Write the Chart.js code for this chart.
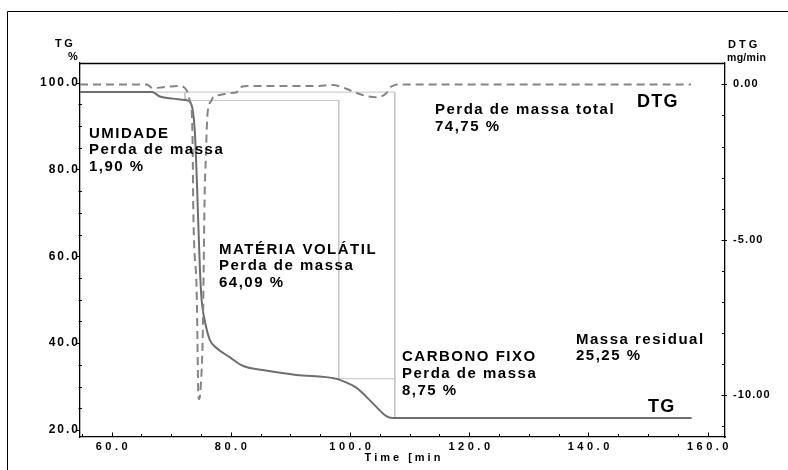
<!DOCTYPE html>
<html>
<head>
<meta charset="utf-8">
<script src="https://cdn.jsdelivr.net/npm/chart.js@4/dist/chart.umd.min.js"></script>
<style>
  html, body { margin: 0; padding: 0; background: #fff; }
  canvas { display: block; }
</style>
</head>
<body>
<canvas id="tga" width="788" height="470"></canvas>
<script>
// Axes
const timeRange = [54.7, 162.9];
const timeTicks = [60, 80, 100, 120, 140, 160];
const tgRange = [18.4, 104.5];
const tgTicks = [20, 40, 60, 80, 100];
const dtgRange = [-11.35, 0.69];
const dtgTicks = [0, -5, -10];

// TG curve: mass (%) against time (min)
const tgTime = [54.7, 66.75, 68.1, 70.3, 72.3, 73.1, 73.6, 73.95, 74.3, 74.45, 74.8, 75.1, 75.6, 76.5,
                77.6, 79.8, 82.0, 85.3, 91.0, 97.7, 99.1, 101.1, 103.8, 106.1, 107.1, 157.3];
const tgMass = [97.8, 97.8, 96.8, 96.3, 96.0, 95.6, 93.7, 89.1, 77.6, 71.4, 57.6, 50.0, 45.4, 40.7,
                38.9, 36.8, 34.8, 33.8, 32.7, 31.8, 31.1, 29.7, 26.2, 23.2, 22.8, 22.8];

// DTG curve: rate (mg/min) against time (min)
const dtgTime = [54.7, 65.9, 66.9, 68.6, 71.4, 72.3, 72.8, 73.1, 73.45, 73.6, 73.7, 74.3, 74.4, 74.55,
                 74.7, 74.95, 75.3, 75.45, 75.6, 75.8, 76.1, 76.8, 77.0, 78.1, 79.8, 81.0, 81.5, 83.2,
                 94.4, 97.1, 98.7, 99.9, 102.1, 104.4, 106.1, 106.6, 107.5, 107.8, 157.2];
const dtgRate = [0, 0, -0.12, -0.09, -0.05, -0.12, -0.28, -0.51, -0.92, -2.0, -3.95, -6.9, -8.2, -10.0,
                 -10.13, -9.74, -8.0, -5.9, -3.7, -2.4, -0.92, -0.51, -0.41, -0.34, -0.28, -0.25, -0.09, -0.05,
                 -0.05, -0.02, -0.09, -0.18, -0.34, -0.41, -0.28, -0.12, -0.02, 0, 0];

// Mass-loss steps (umidade, matéria volátil, carbono fixo)
const stepStartMass = 97.8;
const stepLosses = [1.90, 64.09, 8.75];
const stepTimes = [72.3, 98.1, 107.5];
const totalLoss = 74.75;
const residualMass = 25.25;

const FONT = "'Liberation Sans', Arial, Helvetica, sans-serif";
const pct = v => v.toFixed(2).replace('.', ',') + ' %';

// Step levels after each loss
const levels = [stepStartMass];
stepLosses.forEach(l => levels.push(+(levels[levels.length - 1] - l).toFixed(2)));

// Step construction lines (outer box and inner steps), gaps separated by null
const guidePts = [
  {x: timeRange[0], y: levels[0]}, {x: stepTimes[2], y: levels[0]}, {x: stepTimes[2], y: levels[3]},
  {x: stepTimes[2], y: null},
  {x: stepTimes[0], y: levels[0]}, {x: stepTimes[0], y: levels[1]}, {x: stepTimes[1], y: levels[1]},
  {x: stepTimes[1], y: levels[2]}, {x: stepTimes[2], y: levels[2]}
];

// Letter-spaced text helpers
function spaced(ctx, px, fn) {
  ctx.save();
  if ('letterSpacing' in ctx) ctx.letterSpacing = px + 'px';
  fn();
  ctx.restore();
}
function spacedScale(scale, labelSp, labelShift, titleSp, titleShift) {
  if (scale._spaced) return;
  scale._spaced = true;
  const dl = scale.drawLabels.bind(scale);
  const dt = scale.drawTitle.bind(scale);
  scale.drawLabels = function (area) {
    const ctx = this.ctx;
    spaced(ctx, labelSp, () => { ctx.translate(labelShift, 0); dl(area); });
  };
  scale.drawTitle = function (area) {
    const ctx = this.ctx;
    spaced(ctx, titleSp, () => { ctx.translate(titleShift, 0); dt(area); });
  };
}

const spacing = {
  id: 'spacing',
  beforeDraw(chart) {
    const s = chart.scales;
    spacedScale(s.x, 3.5, 1.75, 3, 1.5);
    spacedScale(s.y, 2, 2, 0, 0);
    spacedScale(s.y1, 1.1, 0, 0, 0);
  }
};

// Frame, tick marks and annotations
const decor = {
  id: 'decor',
  afterDraw(chart) {
    const {ctx, chartArea: a, scales: {x, y, y1}} = chart;
    const line = (x0, y0, x1, y1_) => { ctx.beginPath(); ctx.moveTo(x0, y0); ctx.lineTo(x1, y1_); ctx.stroke(); };
    ctx.save();
    ctx.strokeStyle = '#000';
    ctx.lineWidth = 1;
    // outer frame
    line(7.5, 11.5, chart.width, 11.5);
    line(7.5, 11.5, 7.5, chart.height);
    // top edge of plot
    ctx.lineWidth = 1.3;
    line(a.left, a.top + 0.5, a.right, a.top + 0.5);
    ctx.lineWidth = 1;
    // time ticks (pointing inward)
    for (let v = 55; v <= 160; v += 5) {
      const px = Math.round(x.getPixelForValue(v)) + 0.5;
      const major = timeTicks.includes(v);
      line(px, a.bottom, px, a.bottom - (major ? 4.5 : 3));
    }
    // TG ticks
    for (let v = 20; v <= 100; v += 5) {
      const py = Math.round(y.getPixelForValue(v)) + 0.5;
      if (tgTicks.includes(v)) line(a.left - 4, py, a.left, py);
      else line(a.left - 1.5, py, a.left + 2, py);
    }
    // DTG ticks
    for (let v = -11; v <= 0; v += 1) {
      const py = Math.round(y1.getPixelForValue(v)) + 0.5;
      if (dtgTicks.includes(v)) line(a.right - 3.5, py, a.right + 2, py);
      else line(a.right - 3, py, a.right, py);
    }
    ctx.restore();

    ctx.save();
    ctx.fillStyle = '#000';
    ctx.textAlign = 'left';
    ctx.textBaseline = 'alphabetic';
    const text = (t, px, py, font, sp) => { ctx.font = font; spaced(ctx, sp, () => ctx.fillText(t, px, py)); };

    // axis units
    text('TG', 55, 47, `bold 11px ${FONT}`, 2.5);
    text('%', 68, 60, `bold 11px ${FONT}`, 0);
    text('DTG', 728, 47.5, `bold 11px ${FONT}`, 3);
    text('mg/min', 727, 60.5, `bold 10.5px ${FONT}`, 0.3);

    // step annotations
    const notes = [
      {x: 89, y: 137.5, lines: ['UMIDADE', 'Perda de massa', pct(stepLosses[0])]},
      {x: 219, y: 253.5, lines: ['MATÉRIA VOLÁTIL', 'Perda de massa', pct(stepLosses[1])]},
      {x: 402, y: 361, lines: ['CARBONO FIXO', 'Perda de massa', pct(stepLosses[2])]},
      {x: 435, y: 114, lines: ['Perda de massa total', pct(totalLoss)]},
      {x: 576, y: 343.5, lines: ['Massa residual', pct(residualMass)]}
    ];
    notes.forEach(n => n.lines.forEach((t, i) => text(t, n.x, n.y + i * 16.8, `bold 15px ${FONT}`, 1.5)));

    // curve labels
    text('DTG', 637, 106.5, `bold 18px ${FONT}`, 1.3);
    text('TG', 648, 411.5, `bold 18px ${FONT}`, 1.3);
    ctx.restore();
  }
};

const toPts = (xs, ys) => xs.map((t, i) => ({x: t, y: ys[i]}));

new Chart(document.getElementById('tga'), {
  type: 'line',
  data: {
    datasets: [
      {
        label: 'DTG',
        data: toPts(dtgTime, dtgRate),
        yAxisID: 'y1',
        borderColor: '#858585',
        borderWidth: 2,
        borderDash: [8, 5],
        pointRadius: 0,
        cubicInterpolationMode: 'monotone',
        fill: false
      },
      {
        label: 'TG',
        data: toPts(tgTime, tgMass),
        yAxisID: 'y',
        borderColor: '#6e6e6e',
        borderWidth: 2,
        pointRadius: 0,
        cubicInterpolationMode: 'monotone',
        fill: false
      },
      {
        label: 'Etapas',
        data: guidePts,
        yAxisID: 'y',
        borderColor: '#c4c4c4',
        borderWidth: 1,
        pointRadius: 0,
        tension: 0,
        spanGaps: false,
        fill: false
      }
    ]
  },
  options: {
    responsive: false,
    animation: false,
    events: [],
    layout: {padding: {top: 63, left: 0, right: 0, bottom: 0}},
    plugins: {legend: {display: false}, tooltip: {enabled: false}},
    scales: {
      x: {
        type: 'linear',
        position: 'bottom',
        min: timeRange[0],
        max: timeRange[1],
        afterBuildTicks: s => { s.ticks = timeTicks.map(v => ({value: v})); },
        afterFit: s => { s.height = 33; },
        grid: {display: false, drawTicks: false},
        border: {display: true, color: '#000', width: 1.3},
        ticks: {
          autoSkip: false, maxRotation: 0, padding: 3, color: '#000',
          font: {family: FONT, size: 11, weight: 'bold'},
          callback: v => v.toFixed(1)
        },
        title: {
          display: true, text: 'Time [min', color: '#000',
          font: {family: FONT, size: 11, weight: 'bold'},
          padding: {top: 0, bottom: 5}
        }
      },
      y: {
        type: 'linear',
        position: 'left',
        min: tgRange[0],
        max: tgRange[1],
        afterBuildTicks: s => { s.ticks = tgTicks.map(v => ({value: v})); },
        afterFit: s => { s.width = 80; },
        grid: {display: false, drawTicks: false},
        border: {display: true, color: '#000', width: 1.3},
        ticks: {
          autoSkip: false, padding: 2, color: '#000',
          font: {family: FONT, size: 12, weight: 'bold'},
          callback: v => v.toFixed(1)
        }
      },
      y1: {
        type: 'linear',
        position: 'right',
        min: dtgRange[0],
        max: dtgRange[1],
        afterBuildTicks: s => { s.ticks = dtgTicks.map(v => ({value: v})); },
        afterFit: s => { s.width = 63; },
        grid: {display: false, drawTicks: false},
        border: {display: true, color: '#000', width: 1.3},
        ticks: {
          autoSkip: false, padding: 8, color: '#000',
          font: {family: FONT, size: 11, weight: 'bold'},
          callback: v => v.toFixed(2)
        }
      }
    }
  },
  plugins: [spacing, decor]
});
</script>
</body>
</html>
